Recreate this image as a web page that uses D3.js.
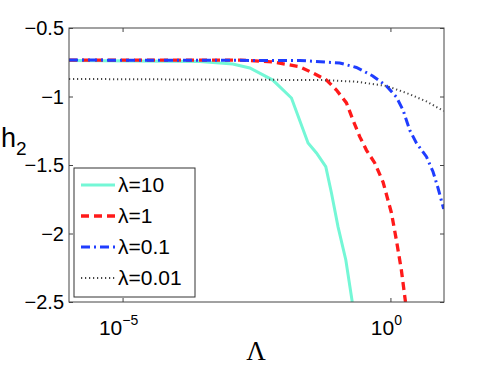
<!DOCTYPE html>
<html>
<head>
<meta charset="utf-8">
<script src="https://cdn.jsdelivr.net/npm/d3@7"></script>
<style>
  body { margin: 0; background: #fff; }
  text { font-family: "Liberation Sans", Arial, sans-serif; fill: #000; }
  .axis path, .axis line { stroke: #444; }
</style>
</head>
<body>
<div id="viz"></div>
<script>
// Width and height
var w = 491;
var h = 369;
var margin = {top: 28, right: 47, bottom: 67, left: 69};

// data (Lambda, h2)
var lam10X  = [1e-6, 2.77e-4, 1.14e-3, 2.37e-3, 6.37e-3, 0.0142, 0.029, 0.0416, 0.0621, 0.0793, 0.105, 0.147, 0.194];
var lam10Y  = [-0.737, -0.745, -0.763, -0.792, -0.880, -1.011, -1.339, -1.412, -1.512, -1.704, -1.950, -2.193, -2.5];
var lam1X   = [1e-6, 1.55e-3, 6.37e-3, 0.0204, 0.0355, 0.064, 0.0984, 0.151, 0.2, 0.267, 0.356, 0.509, 0.728, 1.045, 1.29, 1.6, 1.91];
var lam1Y   = [-0.734, -0.734, -0.748, -0.783, -0.828, -0.880, -0.953, -1.047, -1.172, -1.293, -1.391, -1.485, -1.624, -1.850, -2.047, -2.266, -2.5];
var lam01X  = [1e-6, 0.0204, 0.113, 0.232, 0.468, 0.841, 1.29, 1.72, 2.29, 3.05, 4.7, 6.24, 7.73, 9.86];
var lam01Y  = [-0.734, -0.737, -0.755, -0.788, -0.850, -0.923, -1.004, -1.099, -1.245, -1.339, -1.439, -1.549, -1.668, -1.821];
var lam001X = [1e-6, 0.0546, 0.232, 0.841, 1.99, 4.7, 9.86];
var lam001Y = [-0.872, -0.880, -0.892, -0.923, -0.974, -1.036, -1.106];

var seriesNames = ["λ=10", "λ=1", "λ=0.1", "λ=0.01"];
var yTicks = [-2.5, -2, -1.5, -1, -0.5];
var yTickLabels = ["−2.5", "−2", "−1.5", "−1", "−0.5"];
var xTicks = [1e-5, 1];
var xTickExp = ["−5", "0"];

var styles = [
  {color: "#74f7d6", width: 3,   dash: null},
  {color: "#ff1a1a", width: 3.3, dash: "8,5"},
  {color: "#1f3dff", width: 3,   dash: "9,4,2,4"},
  {color: "#444444", width: 2,   dash: "1.2,2.8"}
];

var series = [
  d3.zip(lam10X, lam10Y),
  d3.zip(lam1X, lam1Y),
  d3.zip(lam01X, lam01Y),
  d3.zip(lam001X, lam001Y)
];

var iw = w - margin.left - margin.right;
var ih = h - margin.top - margin.bottom;

var x = d3.scaleLog().domain([1e-6, 10]).range([0, iw]);
var y = d3.scaleLinear().domain([-2.5, -0.5]).range([ih, 0]);

var svg = d3.select("#viz")
            .append("svg")
            .attr("width", w)
            .attr("height", h);

var g = svg.append("g")
           .attr("transform", "translate(" + margin.left + "," + margin.top + ")");

svg.append("defs").append("clipPath").attr("id", "clip")
   .append("rect").attr("width", iw).attr("height", ih);

// axes, ticks pointing inward on all sides
var yAxis = g.append("g").attr("class", "axis")
    .call(d3.axisLeft(y).tickValues(yTicks).tickSize(-4).tickSizeOuter(0).tickPadding(5)
            .tickFormat(function(d, i) { return yTickLabels[i]; }));
yAxis.selectAll("text").style("font-size", "20px").attr("dy", "0.34em");

g.append("g").attr("class", "axis")
    .attr("transform", "translate(" + iw + ",0)")
    .call(d3.axisRight(y).tickValues(yTicks).tickSize(-4).tickSizeOuter(0).tickFormat(""));

g.append("g").attr("class", "axis")
    .attr("transform", "translate(0," + ih + ")")
    .call(d3.axisBottom(x).tickValues(xTicks).tickSize(-4).tickSizeOuter(0).tickFormat(""));

g.append("g").attr("class", "axis")
    .call(d3.axisTop(x).tickValues(xTicks).tickSize(-4).tickSizeOuter(0).tickFormat(""));

g.selectAll(".axis path").remove();

// x tick labels with superscript
xTicks.forEach(function(t, i) {
  var lab = g.append("text")
     .attr("x", x(t) - 4)
     .attr("y", ih + 33)
     .attr("text-anchor", "middle")
     .style("font-size", "21px");
  lab.append("tspan").text("10");
  lab.append("tspan").attr("dy", "-10").style("font-size", "14px").text(xTickExp[i]);
});

// lines
var line = d3.line()
    .x(function(d) { return x(d[0]); })
    .y(function(d) { return y(d[1]); });

g.append("g").attr("clip-path", "url(#clip)")
  .selectAll("path.series")
  .data(series)
  .enter()
  .append("path")
  .attr("class", "series")
  .attr("fill", "none")
  .attr("d", line)
  .attr("stroke", function(d, i) { return styles[i].color; })
  .attr("stroke-width", function(d, i) { return styles[i].width; })
  .attr("stroke-dasharray", function(d, i) { return styles[i].dash; });

// box
g.append("rect")
  .attr("width", iw).attr("height", ih)
  .attr("fill", "none").attr("stroke", "#444").attr("stroke-width", 1);

// legend
var leg = g.append("g").attr("transform", "translate(5,140)");
leg.append("rect")
  .attr("width", 121).attr("height", 129)
  .attr("fill", "#fff").attr("stroke", "#333").attr("stroke-width", 1);

var items = leg.selectAll("g.item")
  .data(seriesNames)
  .enter()
  .append("g")
  .attr("class", "item")
  .attr("transform", function(d, i) { return "translate(0," + (17 + i * 31) + ")"; });

items.append("line")
  .attr("x1", 7).attr("x2", 41)
  .attr("stroke", function(d, i) { return styles[i].color; })
  .attr("stroke-width", function(d, i) { return styles[i].width; })
  .attr("stroke-dasharray", function(d, i) { return styles[i].dash; });

items.append("text")
  .attr("x", 44)
  .attr("dy", "0.35em")
  .style("font-size", "21px")
  .text(function(d) { return d; });

// axis titles
svg.append("text")
  .attr("x", 256).attr("y", 360)
  .attr("text-anchor", "middle")
  .style("font-family", "'Liberation Serif', 'Times New Roman', serif")
  .style("font-size", "27px")
  .text("Λ");

var yl = svg.append("text")
  .attr("x", 1).attr("y", 147)
  .style("font-size", "27px");
yl.append("tspan").text("h");
yl.append("tspan").attr("dy", "8").style("font-size", "19px").text("2");
</script>
</body>
</html>
